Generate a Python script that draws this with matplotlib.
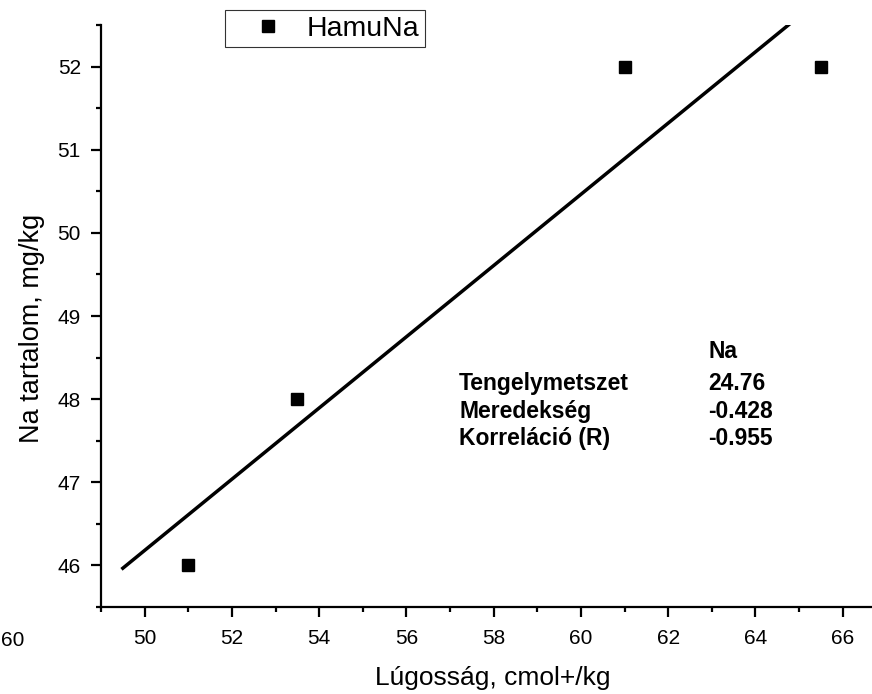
import numpy as np
import matplotlib
matplotlib.use("Agg")
import matplotlib.pyplot as plt
from matplotlib.ticker import MultipleLocator

plt.rcParams['font.family'] = ['Liberation Sans', 'DejaVu Sans']

# Measured data
lugossag = [51.0, 53.5, 61.0, 65.5]
na_tartalom = [46.0, 48.0, 52.0, 52.0]
series_name = "HamuNa"

# Fit statistics table
stat_names = ["Tengelymetszet", "Meredekség", "Korreláció (R)"]
stat_values = ["24.76", "-0.428", "-0.955"]
stat_header = "Na"

x_ticks = [50, 52, 54, 56, 58, 60, 62, 64, 66]
y_ticks = [46, 47, 48, 49, 50, 51, 52]

W, H = 872, 694
fig = plt.figure(figsize=(W / 100, H / 100), dpi=100)
ax = fig.add_axes([101 / W, 1 - 607 / H, 1 - 101 / W, (607 - 25) / H])

# Linear regression line
slope, intercept = np.polyfit(lugossag, na_tartalom, 1)
xl = np.array([49.5, 66.7])
ax.plot(xl, intercept + slope * xl, color='black', lw=2.5, zorder=2)

ax.plot(lugossag, na_tartalom, linestyle='none', marker='s', ms=8.8,
        color='black', label=series_name, zorder=3)

ax.set_xlim(49, 66.67)
ax.set_ylim(45.5, 52.5)
ax.set_xticks(x_ticks)
ax.set_yticks(y_ticks)
ax.xaxis.set_minor_locator(MultipleLocator(1))
ax.yaxis.set_minor_locator(MultipleLocator(0.5))

for s in ['top', 'right']:
    ax.spines[s].set_visible(False)
for s in ['left', 'bottom']:
    ax.spines[s].set_linewidth(1.6)

ax.tick_params(which='major', direction='out', length=7.5, width=1.6,
               labelsize=15)
ax.tick_params(axis='x', which='major', pad=8)
ax.tick_params(axis='y', which='major', pad=7)
ax.tick_params(which='minor', direction='out', length=3.8, width=1.6)

ax.set_xlabel("Lúgosság, cmol+/kg", fontsize=19, labelpad=13)
ax.set_ylabel("Na tartalom, mg/kg", fontsize=19.5, labelpad=9)
ax.xaxis.label.set_x((493 - 101) / 771)
ax.yaxis.label.set_y((607 - 328) / 582)

leg = ax.legend(loc='upper left', bbox_to_anchor=(225 / W, 1 - 10 / H),
                bbox_transform=fig.transFigure,
                frameon=True, fancybox=False, edgecolor='black', fontsize=20.5,
                handlelength=2.62, handletextpad=0.06, borderpad=0.2,
                borderaxespad=0)
leg.get_frame().set_linewidth(0.8)

# Fit statistics
fs = 16.5
fig.text(708 / W, 1 - 358 / H, stat_header, fontsize=fs, fontweight='bold',
         va='baseline', ha='left')
for i, (n, v) in enumerate(zip(stat_names, stat_values)):
    yy = 1 - (390 + i * 27.7) / H
    fig.text(459 / W, yy, n, fontsize=fs, fontweight='bold', va='baseline', ha='left')
    fig.text(708 / W, yy, v, fontsize=fs, fontweight='bold', va='baseline', ha='left')

# Edge of the neighbouring panel
fig.text(1 / W, 1 - 646 / H, "60", fontsize=15, va='baseline', ha='left')

fig.savefig("out.png", dpi=100)
